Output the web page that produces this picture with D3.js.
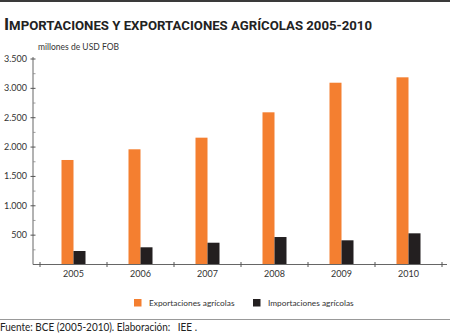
<!DOCTYPE html>
<html>
<head>
<meta charset="utf-8">
<script src="https://cdn.jsdelivr.net/npm/d3@7"></script>
<style>
  body { margin: 0; background: #fff; }
  svg { display: block; }
  text { font-family: Lato, "Open Sans", sans-serif; fill: #333; }
</style>
</head>
<body>
<svg id="chart" width="450" height="334"></svg>
<script>
var years = ["2005", "2006", "2007", "2008", "2009", "2010"];
var exportaciones = [1780, 1962, 2160, 2592, 3096, 3188];
var importaciones = [230, 293, 371, 468, 412, 531];
var yTicks = [500, 1000, 1500, 2000, 2500, 3000, 3500];
var seriesNames = ["Exportaciones agrícolas", "Importaciones agrícolas"];
var seriesColors = ["#f47f30", "#231f20"];

var svg = d3.select("#chart");

// top rule
svg.append("rect").attr("x", 0).attr("y", 0).attr("width", 450).attr("height", 2).style("fill", "#3a3a3a");

// title, hand made small caps
var title = svg.append("text")
    .attr("x", 4).attr("y", 30)
    .attr("textLength", 368).attr("lengthAdjust", "spacingAndGlyphs")
    .style("font-family", "Roboto, Lato, sans-serif")
    .style("font-weight", "bold")
    .style("fill", "#222");
title.append("tspan").style("font-size", "17px").text("I");
title.append("tspan").style("font-size", "12.8px").text("MPORTACIONES Y EXPORTACIONES AGRÍCOLAS 2005-2010");

svg.append("text")
    .attr("x", 38).attr("y", 50)
    .style("font-size", "8.5px")
    .text("millones de USD FOB");

var axisX = 33, x0 = 40, x1 = 442, yBase = 264.5, yTop = 59;

var y = d3.scaleLinear().domain([0, 3500]).range([yBase, yTop]);
var x = d3.scaleBand().domain(years).range([x0, x1]);
var bw = x.bandwidth();
var xs = d3.scaleBand().domain(seriesNames).range([bw / 2 - 12, bw / 2 + 12]);

// y axis
svg.append("line")
    .attr("x1", axisX).attr("x2", axisX)
    .attr("y1", yTop - 2).attr("y2", yBase)
    .style("stroke", "#666").style("stroke-width", 1);

var minor = d3.range(250, 3500, 500);
svg.selectAll(".minor").data(minor).enter().append("line")
    .attr("x1", axisX).attr("x2", axisX + 2.5)
    .attr("y1", function(d) { return y(d); }).attr("y2", function(d) { return y(d); })
    .style("stroke", "#888").style("stroke-width", 0.8);

svg.selectAll(".major").data(yTicks).enter().append("line")
    .attr("x1", axisX - 2.5).attr("x2", axisX + 2.5)
    .attr("y1", function(d) { return y(d); }).attr("y2", function(d) { return y(d); })
    .style("stroke", "#555").style("stroke-width", 1);

var fmt = d3.formatLocale({decimal: ",", thousands: ".", grouping: [3], currency: ["", ""]}).format(",");
svg.selectAll(".ylab").data(yTicks).enter().append("text")
    .attr("x", 27).attr("y", function(d) { return y(d) + 3; })
    .attr("text-anchor", "end")
    .style("font-size", "9px")
    .text(function(d) { return fmt(d); });

// bars
var rows = years.map(function(yr, i) {
    return {year: yr, values: [exportaciones[i], importaciones[i]]};
});
var g = svg.selectAll(".yr").data(rows).enter().append("g")
    .attr("transform", function(d) { return "translate(" + x(d.year) + ",0)"; });
g.selectAll("rect").data(function(d) {
        return d.values.map(function(v, j) { return {name: seriesNames[j], value: v, color: seriesColors[j]}; });
    }).enter().append("rect")
    .attr("x", function(d) { return xs(d.name); })
    .attr("width", xs.bandwidth())
    .attr("y", function(d) { return y(d.value); })
    .attr("height", function(d) { return yBase - y(d.value); })
    .style("fill", function(d) { return d.color; });

// x axis
svg.append("line")
    .attr("x1", axisX).attr("x2", 447)
    .attr("y1", yBase).attr("y2", yBase)
    .style("stroke", "#666").style("stroke-width", 1);
var bounds = years.map(function(d) { return x(d); }).concat([x1]);
svg.selectAll(".xt").data(bounds).enter().append("line")
    .attr("x1", function(d) { return d; }).attr("x2", function(d) { return d; })
    .attr("y1", yBase - 2.5).attr("y2", yBase + 2.5)
    .style("stroke", "#555").style("stroke-width", 1);
svg.selectAll(".xlab").data(years).enter().append("text")
    .attr("x", function(d) { return x(d) + bw / 2; })
    .attr("y", 277)
    .attr("text-anchor", "middle")
    .style("font-size", "9px")
    .text(function(d) { return d; });

// legend
var legX = [134, 253];
var leg = svg.selectAll(".leg").data(seriesNames).enter().append("g")
    .attr("transform", function(d, i) { return "translate(" + legX[i] + ",299)"; });
leg.append("rect").attr("width", 7.5).attr("height", 7.5)
    .style("fill", function(d, i) { return seriesColors[i]; });
leg.append("text").attr("x", 15).attr("y", 7)
    .style("font-size", "8.3px")
    .text(function(d) { return d; });

// footer
svg.append("line")
    .attr("x1", 0).attr("x2", 450).attr("y1", 319.5).attr("y2", 319.5)
    .style("stroke", "#999").style("stroke-width", 1);
svg.append("text")
    .attr("x", 0).attr("y", 331)
    .attr("textLength", 197).attr("lengthAdjust", "spacingAndGlyphs")
    .style("font-size", "10.5px")
    .style("white-space", "pre")
    .style("fill", "#222")
    .text("Fuente: BCE (2005-2010). Elaboración:   IEE .");
</script>
</body>
</html>
